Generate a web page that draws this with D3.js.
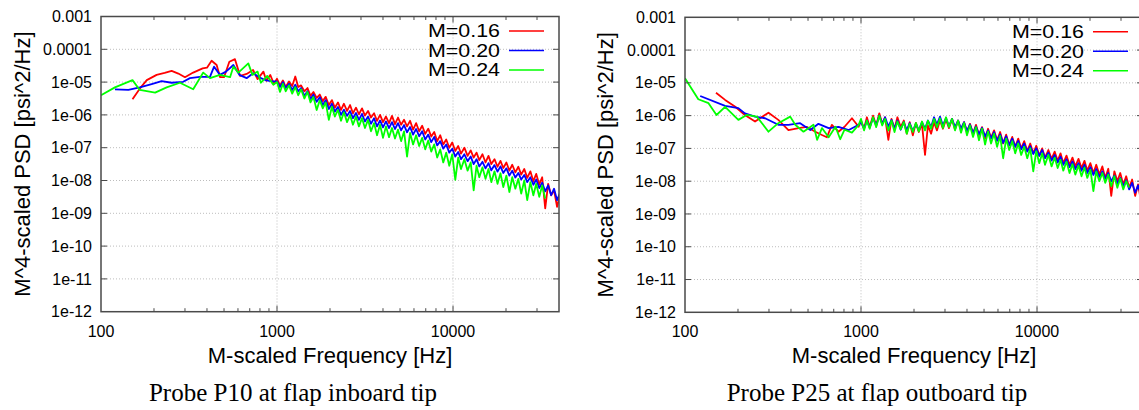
<!DOCTYPE html>
<html>
<head>
<meta charset="utf-8">
<script src="https://cdn.jsdelivr.net/npm/d3@7"></script>
<style>
body { margin: 0; background: #fff; }
svg { display: block; }
.tick-label { font-family: "Liberation Sans", Arial, sans-serif; font-size: 16px; fill: #000; }
.axis-title { font-family: "Liberation Sans", Arial, sans-serif; font-size: 22px; fill: #000; }
.legend-label { font-family: "Liberation Sans", Arial, sans-serif; font-size: 18px; fill: #000; }
.caption { font-family: "Liberation Serif", "Times New Roman", serif; font-size: 25px; fill: #000; }
</style>
</head>
<body>
<svg id="chart" width="1139" height="410"></svg>
<script>
// Axis setup (both panels share the same log-log axes)
var xDomain = [100, 40000];
var yDomain = [1e-12, 1e-3];
var xTickValues = [100, 1000, 10000];
var xTickLabels = ["100", "1000", "10000"];
var yTickValues = [1e-3, 1e-4, 1e-5, 1e-6, 1e-7, 1e-8, 1e-9, 1e-10, 1e-11, 1e-12];
var yTickLabels = ["0.001", "0.0001", "1e-05", "1e-06", "1e-07", "1e-08",
                   "1e-09", "1e-10", "1e-11", "1e-12"];
var seriesNames = ["M=0.16", "M=0.20", "M=0.24"];
var seriesColors = ["#ff0000", "#0000ff", "#00ff00"];
var xTitle = "M-scaled Frequency [Hz]";
var yTitle = "M^4-scaled PSD [psi^2/Hz]";
var captions = ["Probe P10 at flap inboard tip", "Probe P25 at flap outboard tip"];

// PSD values are stored as log10(PSD).
// Low-frequency part: [frequency, log10 PSD] pairs.
var p10Low16 = [[151,-5.52],[166,-5.20],[182,-4.94],[207,-4.78],[230,-4.72],
    [252,-4.66],[275,-4.74],[300,-4.85],[334,-4.71],[378,-4.58],[400,-4.56],
    [425,-4.35],[454,-4.48],[475,-4.85],[500,-4.85],[536,-4.38],[577,-4.30],
    [617,-4.81],[645,-4.78],[672,-4.75],[731,-4.63],[775,-4.91],[837,-4.68],
    [870,-4.96],[915,-4.78],[960,-5.05]];
var p10Low20 = [[120,-5.22],[143,-5.24],[166,-5.16],[194,-5.06],[221,-4.97],
    [252,-5.02],[293,-4.99],[320,-4.88],[365,-4.84],[416,-4.84],[439,-4.53],
    [474,-4.78],[513,-4.68],[565,-4.48],[611,-4.78],[672,-4.88],[731,-4.73],
    [810,-4.88],[870,-4.95],[940,-4.98]];
var p10Low24 = [[100,-5.40],[120,-5.16],[151,-4.94],[166,-5.24],[203,-5.32],
    [236,-5.16],[281,-5.02],[334,-5.22],[381,-4.71],[416,-4.88],[474,-4.78],
    [541,-4.85],[565,-4.53],[603,-4.71],[687,-4.43],[725,-4.78],[775,-4.68],
    [810,-5.02],[880,-4.81],[953,-5.08]];
var p25Low16 = [[150,-5.30],[169,-5.52],[193,-5.73],[219,-5.98],[250,-6.18],
    [298,-5.91],[339,-6.13],[387,-6.44],[442,-6.38],[491,-6.34],[550,-6.49],
    [600,-6.59],[640,-6.66],[683,-6.28],[745,-6.49],[806,-6.34],[888,-6.08],
    [970,-6.34]];
var p25Low20 = [[122,-5.40],[169,-5.70],[201,-5.77],[219,-5.93],[250,-6.03],
    [285,-6.08],[339,-6.28],[387,-6.28],[451,-6.23],[515,-6.44],[573,-6.25],
    [655,-6.38],[745,-6.34],[852,-6.44],[970,-6.28]];
var p25Low24 = [[100,-4.86],[119,-5.50],[136,-5.62],[151,-5.98],[169,-5.73],
    [201,-6.13],[224,-5.98],[256,-6.03],[298,-6.49],[339,-6.23],[396,-6.03],
    [423,-6.28],[471,-6.49],[537,-6.28],[563,-6.74],[600,-6.38],[655,-6.66],
    [716,-6.34],[762,-6.72],[806,-6.43],[888,-6.52],[970,-6.28]];

// Dense high-frequency part: frequencies shared by all series
var denseFreq = [1000, 1040, 1080, 1120, 1170, 1220, 1270, 1320, 1370, 1430,
    1490, 1550, 1610, 1680, 1750, 1820, 1890, 1970, 2050, 2130,
    2220, 2310, 2400, 2500, 2600, 2700, 2810, 2920, 3040, 3160,
    3290, 3420, 3560, 3700, 3850, 4000, 4160, 4330, 4500, 4680,
    4870, 5070, 5270, 5480, 5700, 5930, 6170, 6420, 6680, 6950,
    7230, 7520, 7820, 8130, 8460, 8800, 9150, 9520, 9900, 10300,
    10700, 11100, 11600, 12100, 12600, 13100, 13600, 14100, 14700, 15300,
    15900, 16500, 17200, 17900, 18600, 19300, 20100, 20900, 21700, 22600,
    23500, 24400, 25400, 26400, 27500, 28600, 29700, 30900, 32100, 33400,
    34700, 36100, 37500, 39000, 40500];

var p10Dense16 = [-4.90,-5.10,-4.95,-5.15,-4.98,-5.12,-4.83,-5.15,-5.10,-5.28,
    -5.18,-5.42,-5.30,-5.48,-5.38,-5.58,-5.45,-5.70,-5.55,-5.78,
    -5.62,-5.85,-5.66,-5.88,-5.70,-5.95,-5.78,-5.98,-5.80,-6.02,
    -5.88,-6.08,-5.95,-6.18,-6.00,-6.22,-6.05,-6.25,-6.03,-6.28,
    -6.08,-6.30,-6.15,-6.35,-6.18,-6.45,-6.25,-6.50,-6.33,-6.58,
    -6.42,-6.66,-6.52,-6.80,-6.62,-6.90,-6.75,-7.00,-6.84,-7.10,
    -6.95,-7.18,-7.00,-7.25,-7.08,-7.30,-7.15,-7.38,-7.20,-7.45,
    -7.25,-7.50,-7.35,-7.58,-7.40,-7.62,-7.45,-7.70,-7.52,-7.75,
    -7.58,-7.82,-7.65,-7.92,-7.72,-8.02,-7.80,-8.12,-7.90,-8.85,
    -8.10,-8.45,-8.30,-8.80,-8.45];
var p10Dense20 = [-4.98,-5.15,-5.00,-5.18,-5.05,-5.24,-5.08,-5.28,-5.18,-5.42,
    -5.28,-5.52,-5.38,-5.60,-5.46,-5.70,-5.55,-5.82,-5.66,-5.90,
    -5.76,-6.00,-5.84,-6.03,-5.88,-6.10,-5.94,-6.15,-5.97,-6.20,
    -6.05,-6.27,-6.10,-6.35,-6.17,-6.38,-6.20,-6.40,-6.22,-6.43,
    -6.25,-6.47,-6.31,-6.53,-6.37,-6.60,-6.43,-6.65,-6.50,-6.75,
    -6.60,-6.83,-6.67,-6.93,-6.80,-7.03,-6.90,-7.15,-7.03,-7.27,
    -7.13,-7.35,-7.20,-7.41,-7.27,-7.50,-7.35,-7.57,-7.43,-7.63,
    -7.47,-7.69,-7.53,-7.73,-7.57,-7.77,-7.63,-7.85,-7.70,-7.91,
    -7.77,-7.97,-7.83,-8.05,-7.90,-8.13,-7.97,-8.23,-8.07,-8.33,
    -8.15,-8.45,-8.25,-8.60,-8.38];
var p10Dense24 = [-5.00,-5.30,-5.05,-5.28,-5.10,-5.35,-5.15,-5.40,-5.22,-5.50,
    -5.30,-5.62,-5.45,-5.85,-5.55,-5.80,-5.62,-6.15,-5.75,-6.05,
    -5.85,-6.18,-5.92,-6.22,-6.00,-6.30,-6.05,-6.35,-6.10,-6.40,
    -6.15,-6.50,-6.25,-6.62,-6.30,-6.70,-6.35,-6.68,-6.40,-6.72,
    -6.45,-6.80,-6.50,-7.27,-6.55,-6.90,-6.62,-6.95,-6.70,-7.05,
    -6.78,-7.12,-6.90,-7.30,-7.05,-7.45,-7.15,-7.55,-7.20,-7.98,
    -7.30,-7.65,-7.35,-7.70,-7.45,-8.30,-7.55,-7.90,-7.60,-7.95,
    -7.65,-8.05,-7.72,-8.10,-7.78,-8.20,-7.85,-8.35,-7.90,-8.25,
    -7.95,-8.40,-8.00,-8.60,-8.05,-8.45,-8.10,-8.50,-8.15,-8.55];
var p25Dense16 = [-6.15,-6.40,-6.05,-6.35,-6.00,-6.30,-5.93,-6.25,-6.05,-6.74,
    -6.10,-6.40,-6.05,-6.35,-6.15,-6.55,-6.20,-6.60,-6.22,-6.50,
    -6.25,-7.20,-6.30,-6.55,-6.20,-6.45,-6.15,-6.40,-6.12,-6.38,
    -6.10,-6.42,-6.15,-6.45,-6.20,-6.50,-6.25,-6.55,-6.28,-6.60,
    -6.35,-6.70,-6.40,-6.68,-6.45,-6.75,-6.50,-6.85,-6.58,-6.90,
    -6.65,-6.95,-6.70,-7.00,-6.78,-7.08,-6.85,-7.15,-6.92,-7.22,
    -7.00,-7.28,-7.05,-7.32,-7.10,-7.38,-7.15,-7.45,-7.22,-7.50,
    -7.28,-7.55,-7.32,-7.60,-7.38,-7.68,-7.45,-7.75,-7.50,-7.80,
    -7.55,-7.90,-7.62,-8.45,-7.70,-8.00,-7.75,-8.10,-7.85,-8.20,
    -7.95,-8.45,-8.10,-8.62,-8.25];
var p25Dense20 = [-6.20,-6.40,-6.15,-6.37,-6.07,-6.30,-6.00,-6.25,-6.05,-6.33,
    -6.13,-6.40,-6.15,-6.43,-6.20,-6.45,-6.23,-6.47,-6.25,-6.45,
    -6.20,-6.40,-6.15,-6.35,-6.05,-6.27,-6.03,-6.30,-6.07,-6.33,
    -6.10,-6.35,-6.15,-6.40,-6.20,-6.47,-6.27,-6.53,-6.33,-6.57,
    -6.37,-6.63,-6.45,-6.70,-6.50,-6.77,-6.57,-6.83,-6.63,-6.90,
    -6.70,-6.95,-6.77,-7.03,-6.85,-7.10,-6.93,-7.17,-7.00,-7.23,
    -7.05,-7.30,-7.13,-7.37,-7.20,-7.43,-7.25,-7.50,-7.33,-7.57,
    -7.40,-7.63,-7.45,-7.68,-7.50,-7.75,-7.57,-7.81,-7.63,-7.87,
    -7.70,-7.93,-7.75,-8.00,-7.83,-8.07,-7.90,-8.15,-7.97,-8.25,
    -8.05,-8.35,-8.13,-8.43,-8.20];
var p25Dense24 = [-6.10,-6.45,-6.15,-6.40,-6.05,-6.35,-6.00,-6.30,-6.10,-6.45,
    -6.15,-6.50,-6.18,-6.42,-6.20,-6.55,-6.25,-6.50,-6.22,-6.48,
    -6.18,-6.45,-6.15,-6.40,-6.10,-6.35,-6.08,-6.38,-6.05,-6.35,
    -6.10,-6.45,-6.15,-6.52,-6.22,-6.60,-6.30,-6.65,-6.35,-6.75,
    -6.40,-6.88,-6.48,-6.85,-6.55,-6.95,-6.62,-7.30,-6.70,-7.05,
    -6.78,-7.15,-6.85,-7.20,-6.95,-7.30,-7.00,-7.70,-7.08,-7.45,
    -7.15,-7.50,-7.20,-7.55,-7.28,-7.60,-7.35,-7.68,-7.40,-7.75,
    -7.48,-7.80,-7.52,-7.85,-7.58,-7.90,-7.65,-8.30,-7.70,-8.00,
    -7.75,-8.05,-7.80,-8.15,-7.85,-8.20,-7.92,-8.25,-8.00,-8.20];

//Panel placement
var panels = [
    {id: "p10", x0: 101, x1: 559, y0: 16.5, y1: 311.7, yTitleX: 30,
     caption: captions[0],
     low: [p10Low16, p10Low20, p10Low24],
     dense: [p10Dense16, p10Dense20, p10Dense24]},
    {id: "p25", x0: 685, x1: 1143, y0: 17.3, y1: 312.3, yTitleX: 613,
     caption: captions[1],
     low: [p25Low16, p25Low20, p25Low24],
     dense: [p25Dense16, p25Dense20, p25Dense24]}
];

var svg = d3.select("#chart");
var defs = svg.append("defs");

panels.forEach(function(p) {
    var x = d3.scaleLog().domain(xDomain).range([p.x0, p.x1]);
    var y = d3.scaleLog().domain(yDomain).range([p.y1, p.y0]);
    var g = svg.append("g").attr("class", "panel");

    defs.append("clipPath").attr("id", "clip-" + p.id)
        .append("rect")
        .attr("x", p.x0).attr("y", p.y0)
        .attr("width", p.x1 - p.x0).attr("height", p.y1 - p.y0);

    //Dotted grid at inner decades
    g.selectAll(".hgrid")
        .data(yTickValues.slice(1, -1))
        .enter().append("line")
        .attr("x1", p.x0).attr("x2", p.x1)
        .attr("y1", function(d) { return y(d); })
        .attr("y2", function(d) { return y(d); })
        .attr("stroke", "#bdbdbd")
        .attr("stroke-dasharray", "1,2");
    g.selectAll(".vgrid")
        .data(xTickValues.slice(1))
        .enter().append("line")
        .attr("y1", p.y0).attr("y2", p.y1)
        .attr("x1", function(d) { return x(d); })
        .attr("x2", function(d) { return x(d); })
        .attr("stroke", "#bdbdbd")
        .attr("stroke-dasharray", "1,2");

    //Data lines
    var line = d3.line()
        .x(function(d) { return x(d[0]); })
        .y(function(d) { return y(Math.pow(10, d[1])); });
    var lines = g.append("g").attr("clip-path", "url(#clip-" + p.id + ")");
    seriesNames.forEach(function(name, i) {
        var pts = p.low[i].concat(p.dense[i].map(function(v, j) {
            return [denseFreq[j], v];
        }));
        lines.append("path")
            .datum(pts)
            .attr("d", line)
            .attr("fill", "none")
            .attr("stroke", seriesColors[i])
            .attr("stroke-width", 1.8)
            .attr("stroke-linejoin", "round");
    });

    //Frame
    g.append("rect")
        .attr("x", p.x0).attr("y", p.y0)
        .attr("width", p.x1 - p.x0).attr("height", p.y1 - p.y0)
        .attr("fill", "none")
        .attr("stroke", "#4a4a4a")
        .attr("stroke-width", 1.5);

    //Inward ticks: x major/minor on bottom and top, y major on both sides
    var xAll = x.ticks().filter(function(d) { return d > xDomain[0] && d < xDomain[1]; });
    xAll.forEach(function(d) {
        var len = xTickValues.indexOf(d) >= 0 ? 6 : 3.5;
        [[p.y1, p.y1 - len], [p.y0, p.y0 + len]].forEach(function(s) {
            g.append("line")
                .attr("x1", x(d)).attr("x2", x(d))
                .attr("y1", s[0]).attr("y2", s[1])
                .attr("stroke", "#4a4a4a").attr("stroke-width", 1);
        });
    });
    yTickValues.slice(1, -1).forEach(function(d) {
        [[p.x0, p.x0 + 6], [p.x1, p.x1 - 6]].forEach(function(s) {
            g.append("line")
                .attr("y1", y(d)).attr("y2", y(d))
                .attr("x1", s[0]).attr("x2", s[1])
                .attr("stroke", "#4a4a4a").attr("stroke-width", 1);
        });
    });

    //Tick labels
    g.selectAll(".ylab")
        .data(yTickValues)
        .enter().append("text")
        .attr("class", "tick-label")
        .attr("text-anchor", "end")
        .attr("x", p.x0 - 9)
        .attr("y", function(d) { return y(d); })
        .attr("dy", "0.35em")
        .text(function(d, i) { return yTickLabels[i]; });
    g.selectAll(".xlab")
        .data(xTickValues)
        .enter().append("text")
        .attr("class", "tick-label")
        .attr("text-anchor", "middle")
        .attr("x", function(d) { return x(d); })
        .attr("y", p.y1 + 25)
        .text(function(d, i) { return xTickLabels[i]; });

    //Axis titles and caption
    var cx = (p.x0 + p.x1) / 2;
    g.append("text")
        .attr("class", "axis-title")
        .attr("text-anchor", "middle")
        .attr("x", cx).attr("y", 363)
        .text(xTitle);
    g.append("text")
        .attr("class", "axis-title")
        .attr("text-anchor", "middle")
        .attr("transform", "translate(" + p.yTitleX + "," +
              (p.y0 + p.y1) / 2 + ") rotate(-90)")
        .text(yTitle);
    g.append("text")
        .attr("class", "caption")
        .attr("text-anchor", "middle")
        .attr("x", cx - 37).attr("y", 401)
        .text(p.caption);

    //Legend in the top right corner
    var legend = g.selectAll(".legend")
        .data(seriesNames)
        .enter().append("g")
        .attr("transform", function(d, i) {
            return "translate(0," + (p.y0 + 14.5 + i * 19.5) + ")";
        });
    legend.append("text")
        .attr("class", "legend-label")
        .attr("text-anchor", "end")
        .attr("x", p.x1 - 59)
        .attr("dy", "0.36em")
        .attr("textLength", 72)
        .attr("lengthAdjust", "spacingAndGlyphs")
        .text(function(d) { return d; });
    legend.append("line")
        .attr("x1", p.x1 - 50).attr("x2", p.x1 - 15)
        .attr("stroke", function(d, i) { return seriesColors[i]; })
        .attr("stroke-width", 1.5);
});
</script>
</body>
</html>
